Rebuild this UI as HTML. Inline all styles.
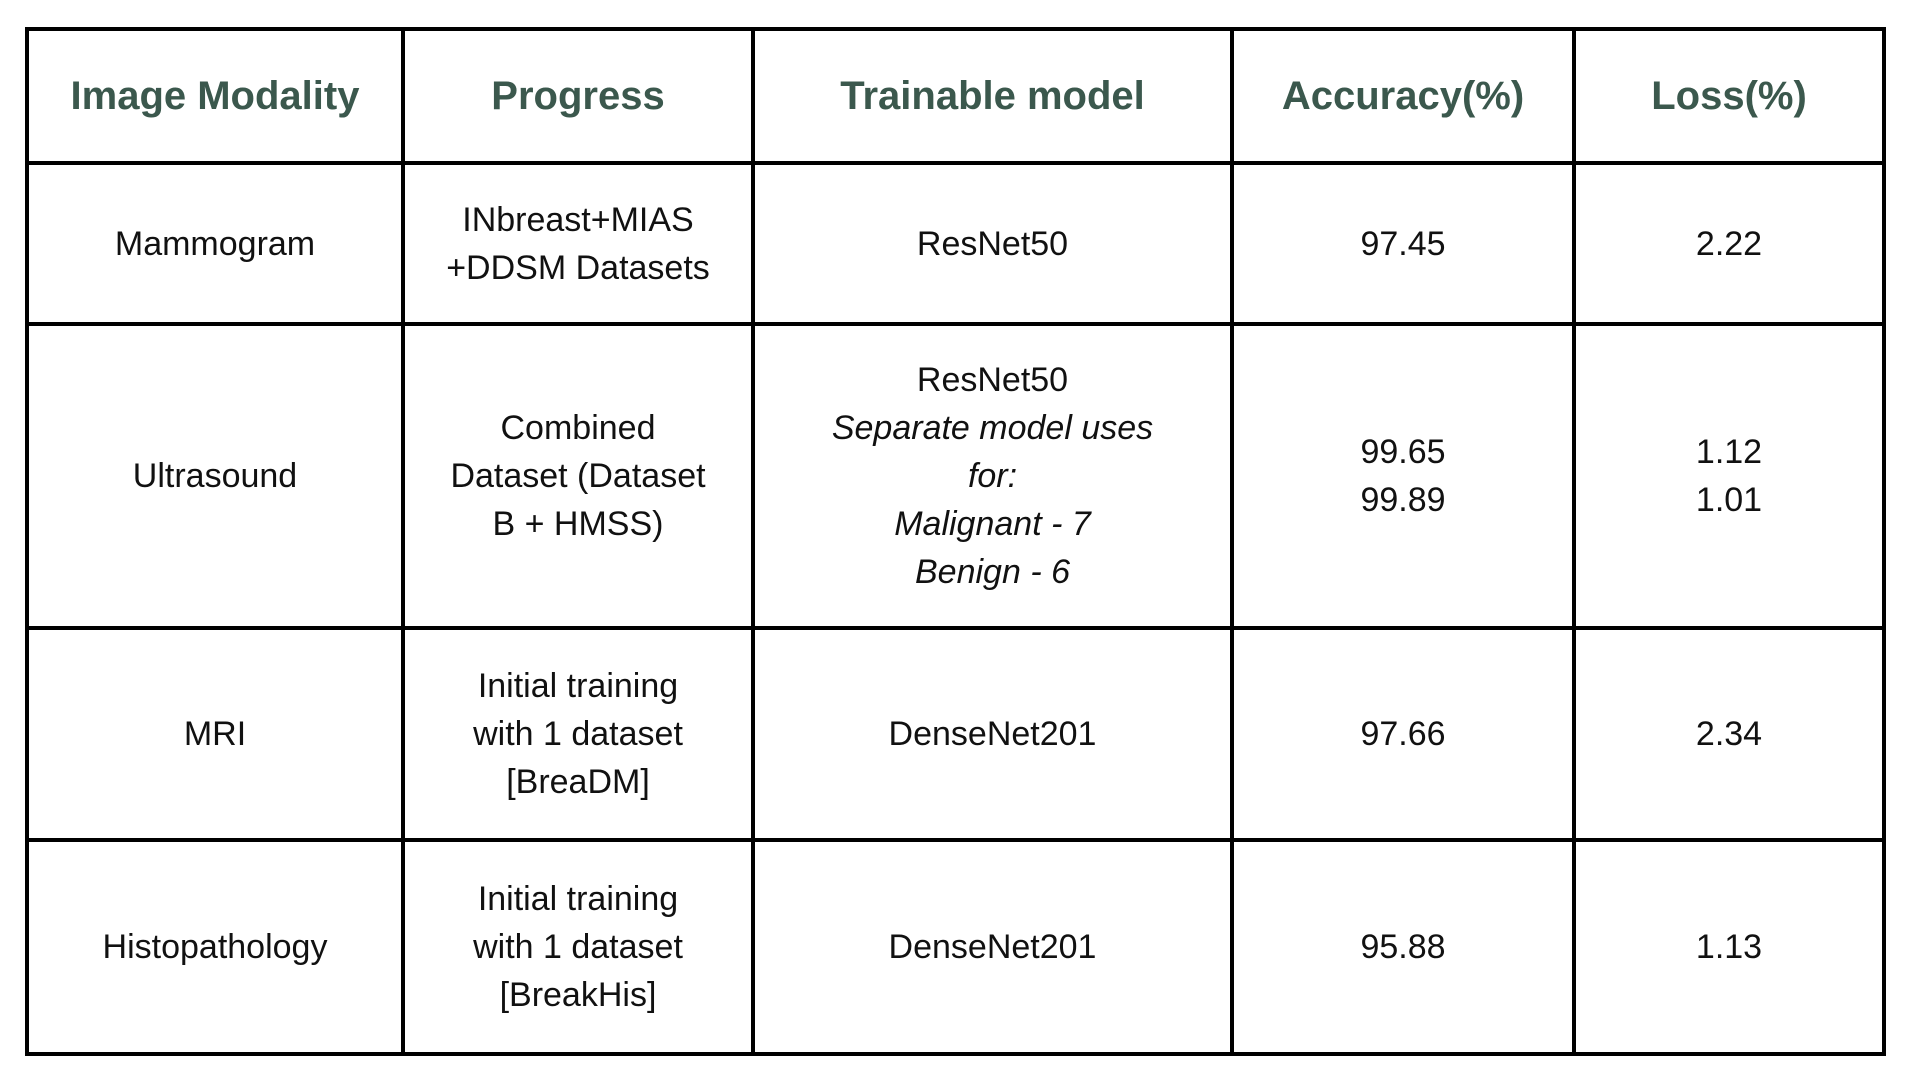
<!DOCTYPE html>
<html><head><meta charset="utf-8"><style>
html,body{margin:0;padding:0;background:#fff;width:1920px;height:1080px;overflow:hidden}
table{position:absolute;left:25px;top:27px;width:1857px;height:1025px;border-collapse:collapse;font-family:"Liberation Sans",sans-serif;table-layout:fixed}
td,th{border:4px solid #000;text-align:center;vertical-align:middle;font-size:34px;line-height:48px;color:#111;padding:0 8px}
th{color:#3b584d;font-size:40px;font-weight:bold}
i{font-style:italic}
</style></head><body>
<table>
<colgroup><col style="width:376px"><col style="width:350px"><col style="width:479px"><col style="width:342px"><col style="width:310px"></colgroup>
<tr style="height:134px">
<th>Image Modality</th>
<th>Progress</th>
<th>Trainable model</th>
<th>Accuracy(%)</th>
<th>Loss(%)</th></tr>
<tr style="height:161px">
<td>Mammogram</td>
<td>INbreast+MIAS<br>+DDSM Datasets</td>
<td>ResNet50</td>
<td>97.45</td>
<td>2.22</td></tr>
<tr style="height:304px">
<td>Ultrasound</td>
<td>Combined<br>Dataset (Dataset<br>B + HMSS)</td>
<td>ResNet50<br><i>Separate model uses<br>for:<br>Malignant - 7<br>Benign - 6</i></td>
<td>99.65<br>99.89</td>
<td>1.12<br>1.01</td></tr>
<tr style="height:212px">
<td>MRI</td>
<td>Initial training<br>with 1 dataset<br>[BreaDM]</td>
<td>DenseNet201</td>
<td>97.66</td>
<td>2.34</td></tr>
<tr style="height:214px">
<td>Histopathology</td>
<td>Initial training<br>with 1 dataset<br>[BreakHis]</td>
<td>DenseNet201</td>
<td>95.88</td>
<td>1.13</td></tr>
</table>
</body></html>
